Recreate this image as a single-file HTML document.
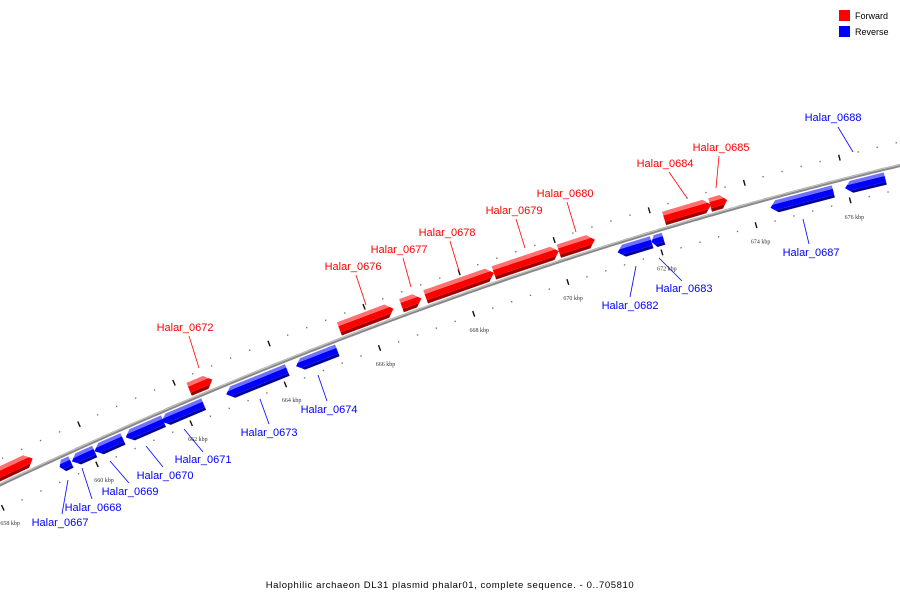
<!DOCTYPE html>
<html><head><meta charset="utf-8"><style>
html,body{margin:0;padding:0;background:#fff;}
svg{display:block;font-family:"Liberation Sans",sans-serif;}
</style></head><body>
<svg id="map" width="900" height="600" viewBox="0 0 900 600" xmlns="http://www.w3.org/2000/svg">
<g id="ticks"></g>
<path id="backbone" fill="none" stroke="#888" stroke-width="3.2"/>
<path id="backbone-hl" fill="none" stroke="#c8c8c8" stroke-width="1"/>
<g id="genes"></g>
<g id="labels"></g>
<g>
<rect x="839" y="10" width="11" height="11" fill="#ff0000"/>
<text x="855" y="19" font-size="9" fill="#000">Forward</text>
<rect x="839" y="26" width="11" height="11" fill="#0000ff"/>
<text x="855" y="35" font-size="9" fill="#000">Reverse</text>
</g>
<text x="450" y="588" font-size="9.5" text-anchor="middle" letter-spacing="0.6" fill="#000">Halophilic archaeon DL31 plasmid phalar01, complete sequence. - 0..705810</text>
</svg>
<script>
const geneNames = ["","","Halar_0672","Halar_0676","Halar_0677","Halar_0678","Halar_0679","Halar_0680","Halar_0684","Halar_0685",
 "Halar_0667","Halar_0668","Halar_0669","Halar_0670","Halar_0671","Halar_0673","Halar_0674","Halar_0682","Halar_0683","Halar_0687","Halar_0688"];
const geneStarts = [657.0,658.0,662.22,665.39,666.70,667.21,668.65,670.02,672.24,673.21,
 659.32,659.58,660.06,660.72,661.48,662.85,664.33,671.14,671.86,674.38,675.96];
const geneEnds = [657.95,658.92,662.71,666.53,667.12,668.65,670.02,670.78,673.23,673.57,
 659.56,660.06,660.66,661.52,662.37,664.14,665.20,671.86,672.11,675.71,676.81];
const geneStrand = [1,1,1,1,1,1,1,1,1,1,-1,-1,-1,-1,-1,-1,-1,-1,-1,-1,-1];
const majorTicks = [656,658,660,662,664,666,668,670,672,674,676,678];
const tickLabels = ["656 kbp","658 kbp","660 kbp","662 kbp","664 kbp","666 kbp","668 kbp","670 kbp","672 kbp","674 kbp","676 kbp","678 kbp"];

const NS="http://www.w3.org/2000/svg";
function kx(k){return 88+(k-660)*47.3;}
function yAt(x){return 484.8-0.4718*x+0.00013*x*x;}
function pt(k,o){const x=kx(k),y=yAt(x),m=-0.4718+0.00026*x,l=Math.sqrt(1+m*m);return [x+o*m/l,y-o/l];}
function el(t,a,p){const e=document.createElementNS(NS,t);for(const q in a)e.setAttribute(q,a[q]);p.appendChild(e);return e;}
// backbone
let d="";for(let k=655.8;k<=678.5;k+=0.1){const p=pt(k,0);d+=(d?"L":"M")+p[0].toFixed(1)+","+p[1].toFixed(1);}
document.getElementById('backbone').setAttribute('d',d);
let d2="";for(let k=655.8;k<=678.5;k+=0.1){const p=pt(k,0.8);d2+=(d2?"L":"M")+p[0].toFixed(1)+","+p[1].toFixed(1);}
document.getElementById('backbone-hl').setAttribute('d',d2);
// ticks
const tg=document.getElementById('ticks');
for(let i=0;i<majorTicks.length;i++){
 const k=majorTicks[i];
 for(const s of [1,-1]){const a=pt(k,s*19),b=pt(k,s*25);
  const t=el('line',{x1:a[0],y1:a[1],x2:b[0],y2:b[1],stroke:'#111','stroke-width':1.4},tg);
  
  }
 const lp=pt(k,-39);
 const tx=el('text',{x:lp[0],y:lp[1]+2,'font-size':6,'text-anchor':'middle',fill:'#333','font-family':'Liberation Serif, serif'},tg);
 tx.textContent=tickLabels[i];
 
 
 for(let j=1;j<5;j++){for(const s of [1,-1]){const p=pt(k+j*0.4,s*23);
  const c=el('rect',{x:p[0]-0.7,y:p[1]-0.7,width:1.4,height:1.4,fill:'#777'},tg);
  
  }}
}
// genes
const gg=document.getElementById('genes');
function band(s,e,o1,o2,dir,h,col){
 // outer ring between offsets o1<o2 ; arrow tip at mid offset
 const mid=dir>0?10:-9,half=dir>0?7:6.5;
 const tip=o=>h*Math.max(0,1-Math.abs(o-mid)/half);
 const pts=[];
 if(dir>0){
  pts.push(pt(s,o1),pt(e+tip(o1),o1));
  if(mid>o1&&mid<o2)pts.push(pt(e+tip(mid),mid));
  pts.push(pt(e+tip(o2),o2),pt(s,o2));
 }else{
  pts.push(pt(e,o1),pt(s-tip(o1),o1));
  if(mid>o1&&mid<o2)pts.push(pt(s-tip(mid),mid));
  pts.push(pt(s-tip(o2),o2),pt(e,o2));
 }
 return el('polygon',{points:pts.map(p=>p[0].toFixed(1)+","+p[1].toFixed(1)).join(" "),fill:col},gg);
}
for(let i=0;i<geneStarts.length;i++){
 const s=geneStarts[i],e=geneEnds[i],dir=geneStrand[i];
 const len=e-s,h=Math.min(0.14,len*0.35),be=e-h,bs=s+h;
 let bands;
 if(dir>0) bands=[[3,6.5,'#a00000'],[6.5,13,'#ff0000'],[13,17,'#ff7070']];
 else bands=[[-15.5,-12.5,'#00009a'],[-12.5,-6.5,'#0000ff'],[-6.5,-3,'#7070ff']];
 const g=el('g',{},gg);
 
 
 for(const b of bands){const p=band(dir>0?s:bs,dir>0?be:e,b[0],b[1],dir,h,b[2]);g.appendChild(p);}
}
// labels
const lg=document.getElementById('labels');
const labelPos={
"Halar_0672":[185,331,199,368,189,336],"Halar_0676":[353,270,366,305,356,275],"Halar_0677":[399,253,411,287,403,258],
"Halar_0678":[447,236,459,271,450,241],"Halar_0679":[514,214,525,248,516,219],"Halar_0680":[565,197,576,232,567,202],
"Halar_0684":[665,167,687,198,669,172],"Halar_0685":[721,151,716,188,719,156],
"Halar_0667":[60,526,68,480,62,514],"Halar_0668":[93,511,82,468,92,499],"Halar_0669":[130,495,110,461,129,483],
"Halar_0670":[165,479,146,446,163,467],"Halar_0671":[203,463,184,429,203,452],"Halar_0673":[269,436,260,399,269,424],
"Halar_0674":[329,413,318,375,327,401],"Halar_0682":[630,309,636,266,630,297],"Halar_0683":[684,292,659,258,682,281],
"Halar_0687":[811,256,803,219,809,244],"Halar_0688":[833,121,853,152,838,127]};
for(let i=0;i<geneNames.length;i++){
 const n=geneNames[i];if(!n)continue;const L=labelPos[n];const col=geneStrand[i]>0?'#ff0000':'#0000ff';
 const ln=el('line',{x1:L[2],y1:L[3],x2:L[4],y2:L[5],stroke:col,'stroke-width':0.8},lg);
 
 
 const t=el('text',{x:L[0],y:L[1],'font-size':11,'text-anchor':'middle',fill:col},lg);
 t.textContent=n;
 
 
}
</script>
</body></html>
